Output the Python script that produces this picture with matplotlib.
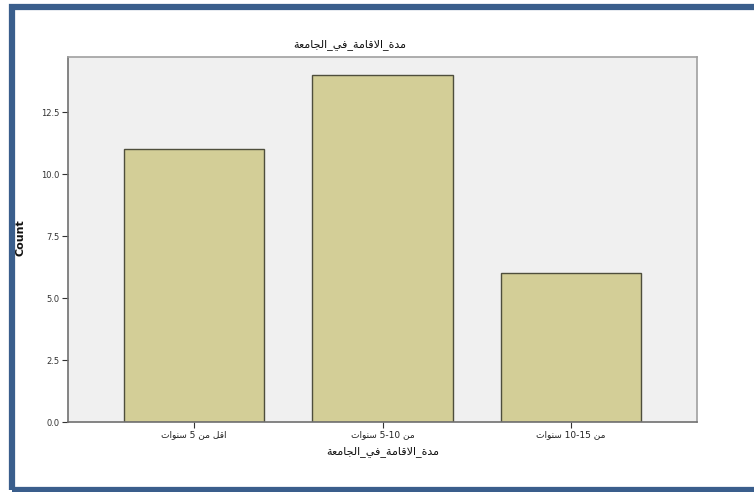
import re
import matplotlib
matplotlib.use("Agg")
import matplotlib.pyplot as plt
from matplotlib.patches import Rectangle

# ---- data ----
title_text = "مدة_الاقامة_في_الجامعة"
categories = ["اقل من 5 سنوات", "من 5-10 سنوات", "من 10-15 سنوات"]
counts = [11, 14, 6]
y_ticks = [0.0, 2.5, 5.0, 7.5, 10.0, 12.5]
y_label = "Count"

# ---- minimal Arabic shaping (presentation forms) + RTL ordering ----
FORMS = {  # iso, fin, ini, med (None => non-joining to the left)
    'ا': ('\uFE8D', '\uFE8E', None, None),
    'ت': ('\uFE95', '\uFE96', '\uFE97', '\uFE98'),
    'ة': ('\uFE93', '\uFE94', None, None),
    'ج': ('\uFE9D', '\uFE9E', '\uFE9F', '\uFEA0'),
    'د': ('\uFEA9', '\uFEAA', None, None),
    'س': ('\uFEB1', '\uFEB2', '\uFEB3', '\uFEB4'),
    'ع': ('\uFEC9', '\uFECA', '\uFECB', '\uFECC'),
    'ف': ('\uFED1', '\uFED2', '\uFED3', '\uFED4'),
    'ق': ('\uFED5', '\uFED6', '\uFED7', '\uFED8'),
    'ل': ('\uFEDD', '\uFEDE', '\uFEDF', '\uFEE0'),
    'م': ('\uFEE1', '\uFEE2', '\uFEE3', '\uFEE4'),
    'ن': ('\uFEE5', '\uFEE6', '\uFEE7', '\uFEE8'),
    'و': ('\uFEED', '\uFEEE', None, None),
    'ي': ('\uFEF1', '\uFEF2', '\uFEF3', '\uFEF4'),
    'ه': ('\uFEE9', '\uFEEA', '\uFEEB', '\uFEEC'),
}


def shape(text):
    # lam-alef ligature handled as a unit
    chars = list(text)
    out = []
    i = 0
    n = len(chars)
    def joins_left(c):
        return c in FORMS and FORMS[c][2] is not None
    while i < n:
        c = chars[i]
        if c not in FORMS:
            out.append(c)
            i += 1
            continue
        prev = chars[i - 1] if i > 0 else None
        connect_prev = prev is not None and joins_left(prev)
        if c == 'ل' and i + 1 < n and chars[i + 1] == 'ا':
            out.append('\uFEFC' if connect_prev else '\uFEFB')
            i += 2
            continue
        nxt = chars[i + 1] if i + 1 < n else None
        connect_next = FORMS[c][2] is not None and nxt in FORMS
        iso, fin, ini, med = FORMS[c]
        if connect_prev and connect_next:
            out.append(med)
        elif connect_prev:
            out.append(fin)
        elif connect_next:
            out.append(ini)
        else:
            out.append(iso)
        i += 1
    s = ''.join(out)[::-1]
    s = re.sub(r'[0-9][0-9\-]*[0-9]|[0-9]', lambda m: m.group()[::-1], s)
    return s


plt.rcParams['font.family'] = ['DejaVu Sans']

fig = plt.figure(figsize=(7.54, 4.92), dpi=100)
fig.patch.set_facecolor('white')

ax = fig.add_axes([68 / 754, 1 - 422 / 492, (697 - 68) / 754, (422 - 57) / 492])
ax.set_facecolor('#F0F0F0')

x = list(range(len(categories)))
ax.bar(x, counts, width=0.745, color='#D3CE97', edgecolor='#4E4E3C', linewidth=1.0, zorder=2)

ax.set_xlim(-0.67, len(categories) - 1 + 0.67)
ax.set_ylim(0, 14.72)
ax.set_yticks(y_ticks)
ax.set_yticklabels([f"{v:.1f}" for v in y_ticks], fontsize=6, color='#333333')
ax.set_xticks(x)
ax.set_xticklabels([shape(c) for c in categories], fontsize=6.5, color='#222222')
ax.tick_params(axis='both', length=4, width=0.8, color='#333333', pad=2)

for side in ['left', 'bottom']:
    ax.spines[side].set_color('#707070')
    ax.spines[side].set_linewidth(1.2)
for side in ['top', 'right']:
    ax.spines[side].set_color('#A0A0A0')
    ax.spines[side].set_linewidth(1.2)

ax.set_xlabel(shape(title_text), fontsize=8, color='#111111', labelpad=5)
fig.text(20 / 754, 1 - 238 / 492, y_label, rotation=90, ha='center', va='center',
         fontsize=8, fontweight='bold', color='#111111')
fig.text(350 / 754, 1 - 45 / 492, shape(title_text), ha='center', va='center',
         fontsize=8, color='#111111')

# blue frame around the figure
frame = Rectangle((12 / 754, 1 - 490 / 492), 760 / 754, (490 - 7) / 492,
                  transform=fig.transFigure, fill=False, edgecolor='#3A5E8C',
                  linewidth=4.5, clip_on=False)
fig.patches.append(frame)

fig.savefig('out.png', dpi=100)
